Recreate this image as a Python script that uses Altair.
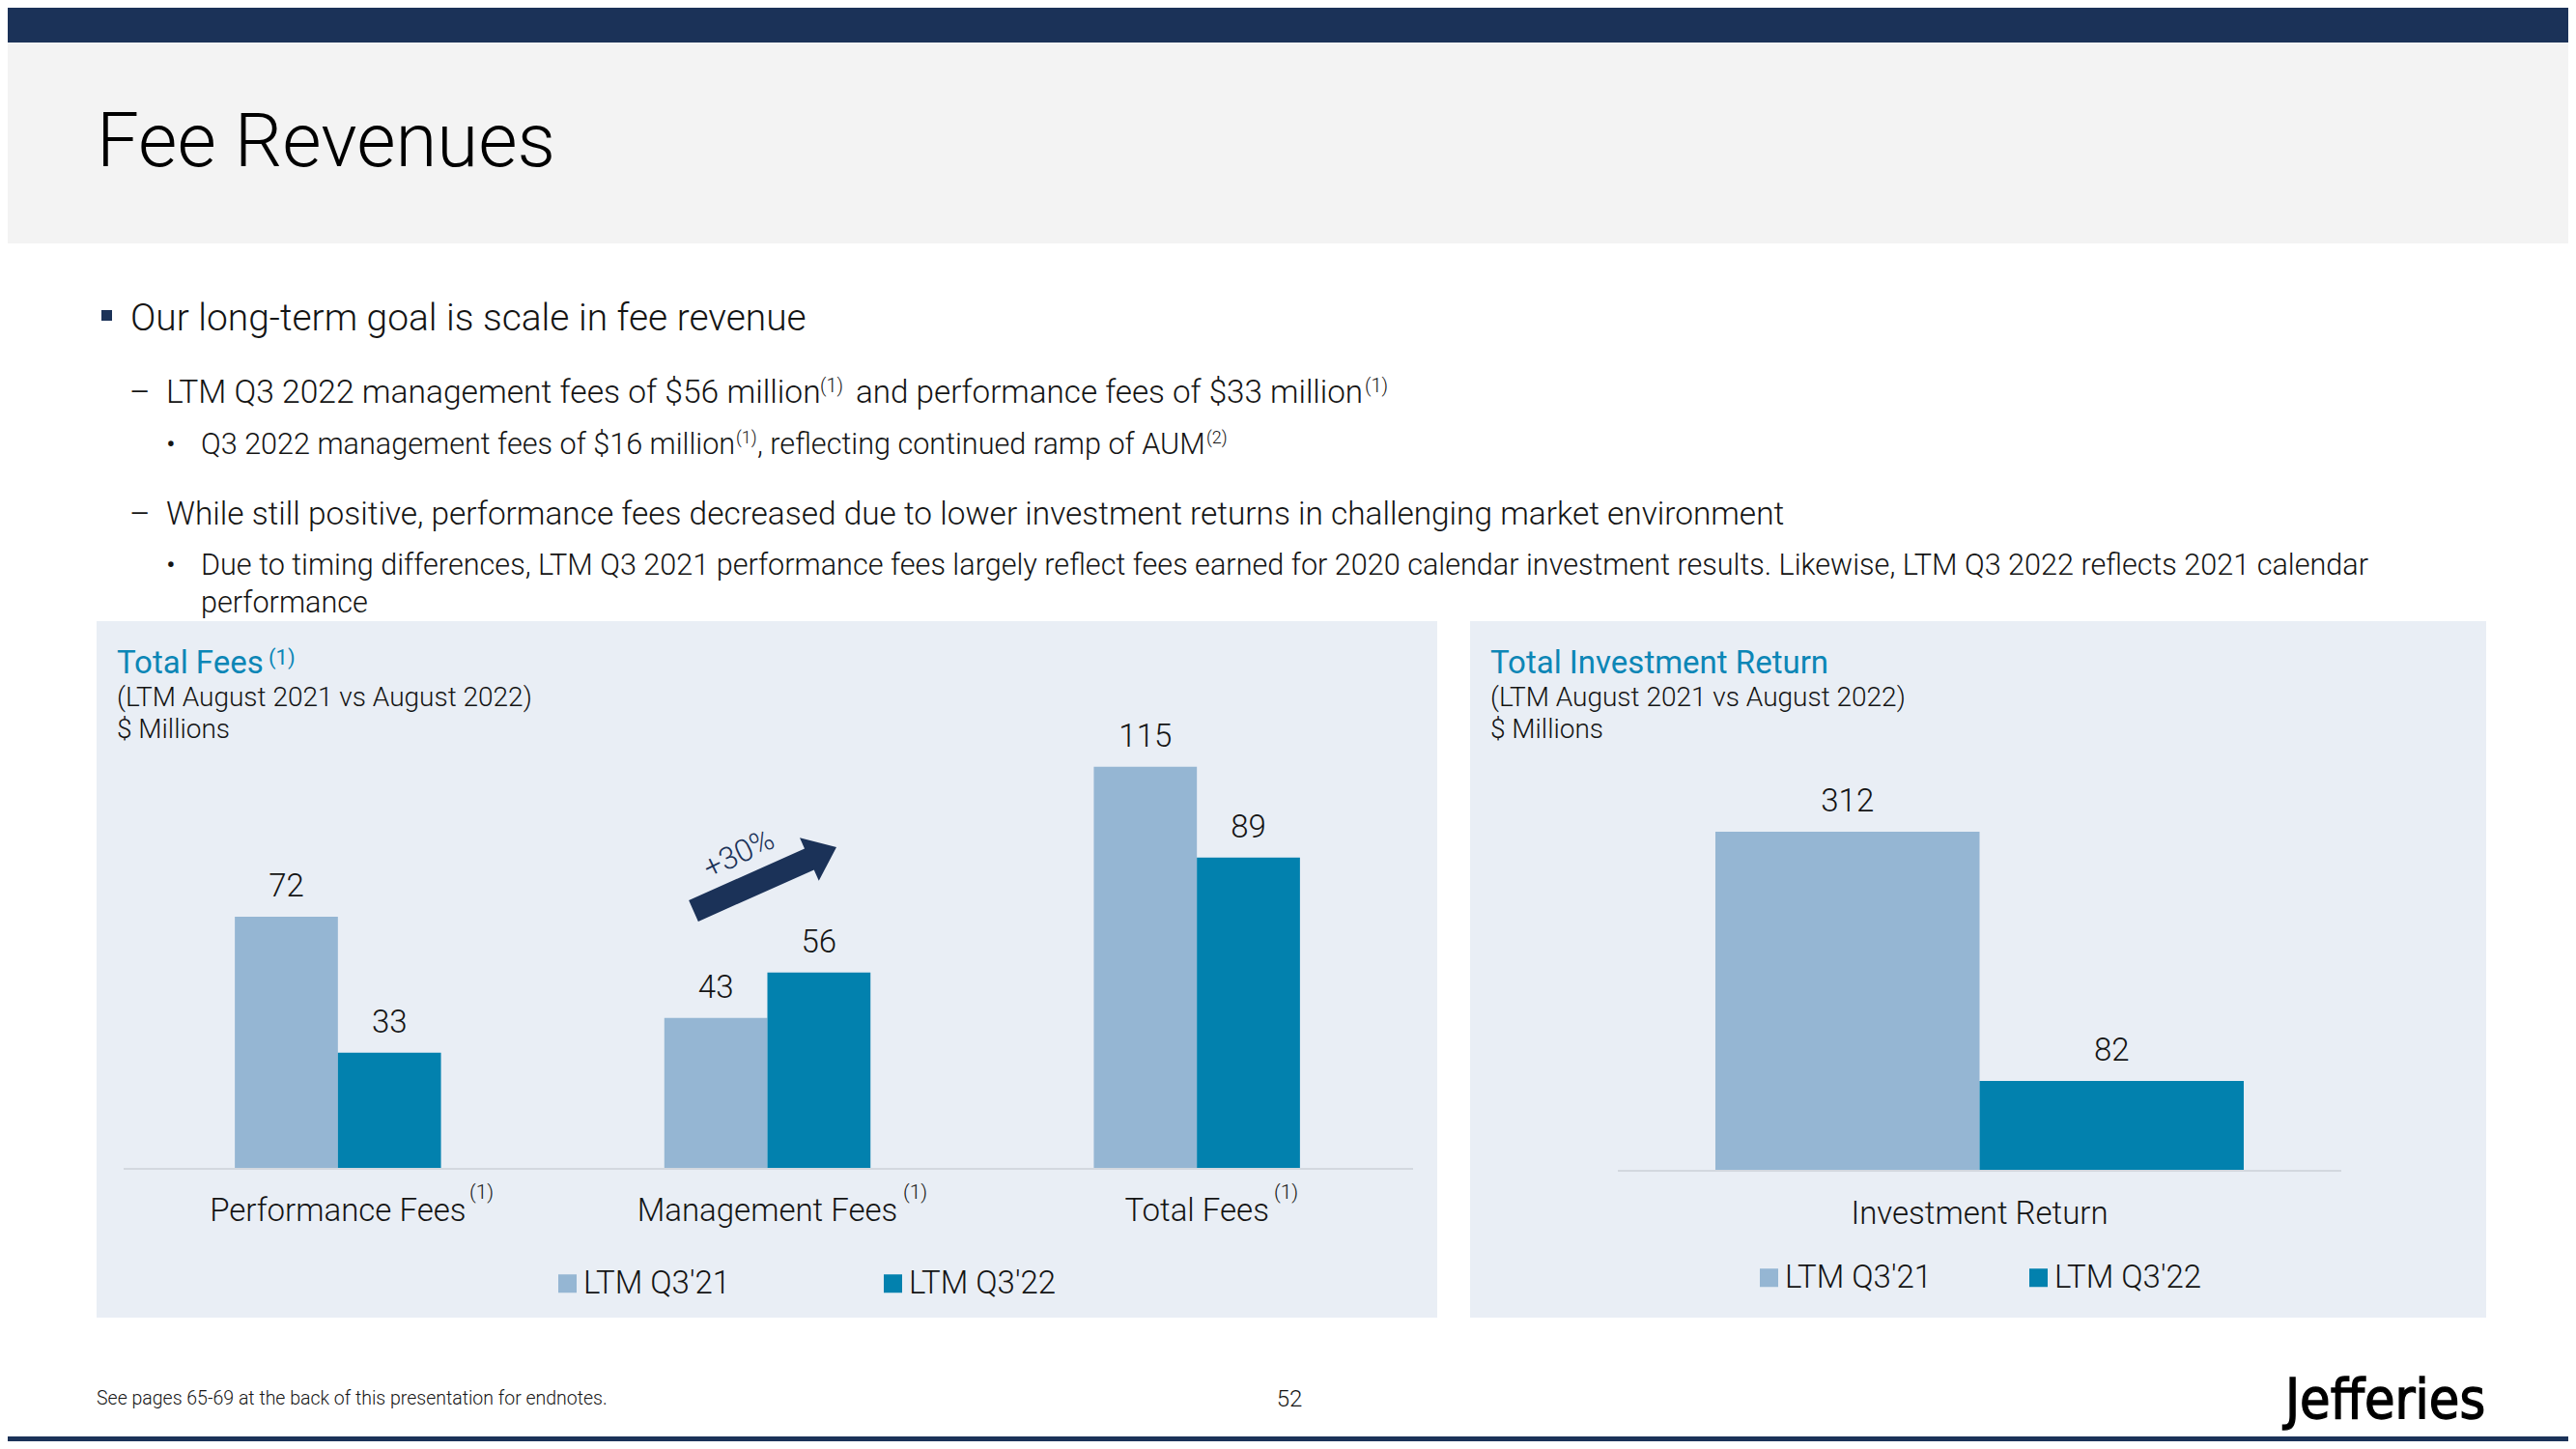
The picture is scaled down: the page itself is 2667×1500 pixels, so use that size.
import altair as alt
import pandas as pd

# ---------------- data ----------------
fee_categories = ["Performance Fees", "Management Fees", "Total Fees"]
series_names = ["LTM Q3'21", "LTM Q3'22"]
fees_ltm_q3_21 = [72, 43, 115]
fees_ltm_q3_22 = [33, 56, 89]

inv_categories = ["Investment Return"]
inv_ltm_q3_21 = [312]
inv_ltm_q3_22 = [82]

fee_df = pd.DataFrame({
    "category": fee_categories * 2,
    "series": [series_names[0]] * len(fee_categories) + [series_names[1]] * len(fee_categories),
    "value": fees_ltm_q3_21 + fees_ltm_q3_22,
})
inv_df = pd.DataFrame({
    "category": inv_categories * 2,
    "series": [series_names[0]] * len(inv_categories) + [series_names[1]] * len(inv_categories),
    "value": inv_ltm_q3_21 + inv_ltm_q3_22,
})
fee_cat_df = pd.DataFrame({"category": fee_categories})
inv_cat_df = pd.DataFrame({"category": inv_categories})

# ---------------- style ----------------
LIGHT = "#95b6d3"
TEAL = "#0281ae"
NAVY = "#1b3258"
PANEL = "#e9eef5"
HEAD_TEAL = "#0c86b6"
INK = "#141414"
AXIS = "#d3d8df"
FONT = "Roboto"

OFF = 8
W, H = 2651, 1484


def px(v):
    return v - OFF


one = alt.Data(values=[{"k": 1}])


def rect(x1, y1, x2, y2, color):
    return alt.Chart(one).mark_rect(color=color, strokeWidth=0).encode(
        x=alt.value(px(x1)), x2=alt.value(px(x2)), y=alt.value(px(y1)), y2=alt.value(px(y2))
    )


def txt(s, x, y, size, color=INK, weight=300, align="left", angle=0, font=FONT,
        baseline="alphabetic", stroke=None):
    kw = dict(text=s, fontSize=size, color=color, fontWeight=weight, align=align,
              baseline=baseline, font=font)
    if angle:
        kw["angle"] = angle
    if stroke:
        kw["stroke"] = color
        kw["strokeWidth"] = stroke
    return alt.Chart(one).mark_text(**kw).encode(x=alt.value(px(x)), y=alt.value(px(y)))


def legend(x, y, colpad):
    return alt.Legend(orient="none", legendX=px(x), legendY=px(y), direction="horizontal",
                      title=None, symbolType="square", symbolSize=361, symbolStrokeWidth=0,
                      symbolOpacity=1, labelFontSize=33, labelFont=FONT, labelFontWeight=300,
                      labelColor=INK, labelOffset=0, columnPadding=colpad, padding=0,
                      labelLimit=400)


def bar_panel(df, cat_df, cats, x_range, pad_inner, pad_outer, y_domain, y_range, label_y, leg):
    x = alt.X("category:N", axis=None,
              scale=alt.Scale(domain=cats, range=x_range, paddingInner=pad_inner,
                              paddingOuter=pad_outer))
    xo = alt.XOffset("series:N", scale=alt.Scale(domain=series_names, paddingInner=0, paddingOuter=0))
    y = alt.Y("value:Q", axis=None, scale=alt.Scale(domain=y_domain, range=y_range))
    bars = alt.Chart(df).mark_bar(strokeWidth=0).encode(
        x=x, xOffset=xo, y=y,
        color=alt.Color("series:N", scale=alt.Scale(domain=series_names, range=[LIGHT, TEAL]),
                        legend=leg),
    )
    vals = alt.Chart(df).mark_text(font=FONT, fontSize=33, fontWeight=300, color=INK,
                                   baseline="alphabetic", dy=-21).encode(
        x=x, xOffset=xo, y=y, text=alt.Text("value:Q", format="d"))
    cat_t = alt.Chart(cat_df).mark_text(font=FONT, fontSize=33, fontWeight=300, color=INK,
                                        baseline="alphabetic").encode(
        x=x, y=alt.value(px(label_y)), text="category:N")
    return alt.layer(bars, vals, cat_t)


left = bar_panel(fee_df, fee_cat_df, fee_categories, [px(127.5), px(1461.5)], 0.52, 0.26,
                 [0, 120], [px(1209), px(1209 - 120 * 3.61)], 1264, legend(571, 1312, 151))
right = bar_panel(inv_df, inv_cat_df, inv_categories, [px(1675), px(2424)], 0, 0.1846,
                  [0, 350], [px(1211), px(1211 - 350 * 1.122)], 1267, legend(1815, 1306, 93))

ARROW = "M-1,-0.148L0.62,-0.148L0.62,-0.3L1,0L0.62,0.3L0.62,0.148L-1,0.148Z"
arrow = alt.Chart(one).mark_point(shape=ARROW, size=162 * 162, angle=336, filled=True,
                                  color=NAVY, opacity=1, strokeWidth=0).encode(
    x=alt.value(px(792)), y=alt.value(px(910)))

layers = [
    # header / footer bands
    rect(0, 0, 2667, 44, NAVY),
    rect(0, 44, 2667, 252, "#f3f3f3"),
    rect(0, 1487, 2667, 1500, NAVY),
    # panels
    rect(100, 643, 1488, 1364, PANEL),
    rect(1522, 643, 2574, 1364, PANEL),
    rect(128, 1209, 1463, 1211, AXIS),
    rect(1675, 1211, 2424, 1213, AXIS),
    # title
    txt("Fee Revenues", 100, 172, 78, color="#000000"),
    # bullets
    rect(105, 321, 116, 332, NAVY),
    txt("Our long-term goal is scale in fee revenue", 135, 342, 38.9),
    txt("–", 134, 417, 33),
    txt("LTM Q3 2022 management fees of $56 million", 172, 417, 33.6),
    txt("(1)", 849, 406, 20),
    txt("and performance fees of $33 million", 886, 417, 33.2),
    txt("(1)", 1413, 406, 20),
    txt("•", 172, 470, 30),
    txt("Q3 2022 management fees of $16 million", 208, 470, 30.6),
    txt("(1)", 762, 459, 18),
    txt(", reflecting continued ramp of AUM", 784, 470, 30.6),
    txt("(2)", 1249, 459, 18),
    txt("–", 134, 543, 33),
    txt("While still positive, performance fees decreased due to lower investment returns in "
        "challenging market environment", 172, 543, 33.4),
    txt("•", 172, 595, 30),
    txt("Due to timing differences, LTM Q3 2021 performance fees largely reflect fees earned for "
        "2020 calendar investment results. Likewise, LTM Q3 2022 reflects 2021 calendar", 208, 595, 30.6),
    txt("performance", 208, 634, 30.6),
    # left panel header
    txt("Total Fees", 121, 697, 33, color=HEAD_TEAL, weight=400),
    txt("(1)", 278, 688, 22, color=HEAD_TEAL, weight=400),
    txt("(LTM August 2021 vs August 2022)", 121, 731, 28),
    txt("$ Millions", 121, 764, 28),
    # right panel header
    txt("Total Investment Return", 1543, 697, 33, color=HEAD_TEAL, weight=400),
    txt("(LTM August 2021 vs August 2022)", 1543, 731, 28),
    txt("$ Millions", 1543, 764, 28),
    # charts
    left,
    right,
    # category footnote markers
    txt("(1)", 486, 1241, 21),
    txt("(1)", 935, 1241, 21),
    txt("(1)", 1319, 1241, 21),
    # growth arrow
    arrow,
    txt("+30%", 765, 884, 32, color=NAVY, angle=334, align="center", baseline="middle"),
    # footer
    txt("See pages 65-69 at the back of this presentation for endnotes.", 100, 1454, 19.5),
    txt("52", 1335, 1456, 24, align="center"),
    txt("Jefferies", 2366, 1468, 57, color="#000000", weight=400,
        font="DejaVu Sans Condensed, Roboto", stroke=1.3),
]

chart = alt.layer(*layers).properties(
    width=W, height=H, autosize=alt.AutoSizeParams(type="none"), padding=0
).resolve_scale(
    x="independent", y="independent", color="independent", xOffset="independent"
).configure_view(strokeWidth=0)

chart.save("out.html", embed_options={"renderer": "svg", "actions": False})
